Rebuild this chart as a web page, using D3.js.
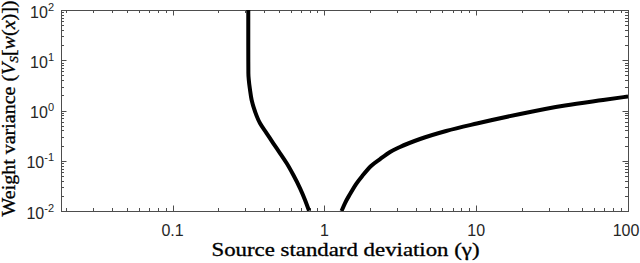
<!DOCTYPE html>
<html>

<head>
    <meta charset="utf-8">
    <script src="https://d3js.org/d3.v7.min.js"></script>
    <style>
        body { margin: 0; background: #fff; }
        svg { display: block; }
        .sans { font-family: 'Liberation Sans', Arial, sans-serif; }
        .serif { font-family: 'Liberation Serif', 'Times New Roman', serif; }
    </style>
</head>

<body>

    <svg id="chart"></svg>

    <script>
        // curve: left branch (gamma < 1) and right branch (gamma > 1)
        var gammaLeft = [0.3155, 0.3155, 0.316, 0.324, 0.332, 0.350, 0.377, 0.417, 0.461, 0.511, 0.565, 0.625, 0.692, 0.746, 0.793];
        var varLeft = [100, 20, 5.5, 2.56, 1.62, 0.946, 0.556, 0.352, 0.2225, 0.1407, 0.089, 0.052, 0.0283, 0.0166, 0.0101];

        var gammaRight = [1.298, 1.369, 1.477, 1.618, 1.798, 2.03, 2.33, 2.71, 3.15, 4.27, 6.34, 10.1, 19.5, 38.5, 68.5, 100];
        var varRight = [0.01, 0.0144, 0.0218, 0.0344, 0.052, 0.0786, 0.108, 0.149, 0.188, 0.271, 0.391, 0.551, 0.852, 1.257, 1.618, 1.899];

        var xDomain = [0.01843, 100];
        var yDomain = [0.01, 100];
        var xTickValues = [0.1, 1, 10, 100];
        var xTickLabels = ["0.1", "1", "10", "100"];
        var yTickExponents = [-2, -1, 0, 1, 2];

        var xLabel = "Source standard deviation (\u03b3)";

        var margin = { top: 10, right: 12, bottom: 52, left: 61 },
            fullW = 640,
            fullH = 263,
            width = fullW - margin.left - margin.right,
            height = fullH - margin.top - margin.bottom;

        var svg = d3.select("#chart")
            .attr("width", fullW)
            .attr("height", fullH);

        var g = svg.append("g")
            .attr("transform", "translate(" + margin.left + "," + margin.top + ")");

        var x = d3.scaleLog().domain(xDomain).range([0, width]);
        var y = d3.scaleLog().domain(yDomain).range([height, 0]);

        var axisColor = "#4d4d4d";
        var majorLen = 5.5, minorLen = 3;

        // minor tick positions (2..9 in every decade)
        function minors(domain) {
            var out = [];
            for (var e = -3; e <= 2; e++) {
                for (var k = 2; k <= 9; k++) {
                    var v = k * Math.pow(10, e);
                    if (v > domain[0] && v < domain[1]) out.push(v);
                }
            }
            return out;
        }

        var xMajors = xTickValues;
        var yMajors = yTickExponents.map(function (p) { return Math.pow(10, p); });

        // x ticks, bottom and top, pointing inwards
        var xt = g.append("g").attr("stroke", axisColor).attr("stroke-width", 1);
        xMajors.concat(minors(xDomain)).forEach(function (v) {
            var len = xMajors.indexOf(v) >= 0 ? majorLen : minorLen;
            var px = Math.round(x(v)) + 0.5;
            xt.append("line").attr("x1", px).attr("x2", px).attr("y1", height).attr("y2", height - len);
            xt.append("line").attr("x1", px).attr("x2", px).attr("y1", 0).attr("y2", len);
        });

        // y ticks, left and right
        var yt = g.append("g").attr("stroke", axisColor).attr("stroke-width", 1);
        yMajors.concat(minors(yDomain)).forEach(function (v) {
            var len = yMajors.indexOf(v) >= 0 ? majorLen : minorLen;
            var py = Math.round(y(v)) + 0.5;
            yt.append("line").attr("x1", 0).attr("x2", len).attr("y1", py).attr("y2", py);
            yt.append("line").attr("x1", width).attr("x2", width - len).attr("y1", py).attr("y2", py);
        });

        // box
        g.append("rect")
            .attr("x", 0.5).attr("y", 0.5)
            .attr("width", width).attr("height", height)
            .attr("fill", "none")
            .attr("stroke", axisColor)
            .attr("stroke-width", 1);

        // x tick labels
        g.append("g").selectAll("text")
            .data(xTickValues)
            .join("text")
            .attr("class", "sans")
            .attr("x", function (d, i) { return x(d) - (i == xTickValues.length - 1 ? 2 : 0); })
            .attr("y", height + 25)
            .attr("text-anchor", "middle")
            .style("font-size", "16px")
            .attr("fill", "#262626")
            .text(function (d, i) { return xTickLabels[i]; });

        // y tick labels 10^p
        var yl = g.append("g").selectAll("text")
            .data(yTickExponents)
            .join("text")
            .attr("class", "sans")
            .attr("x", -7)
            .attr("y", function (d) { return y(Math.pow(10, d)) + 7.5; })
            .attr("text-anchor", "end")
            .style("font-size", "16px")
            .attr("fill", "#262626");
        yl.append("tspan").text("10");
        yl.append("tspan")
            .attr("dy", -7)
            .style("font-size", "11px")
            .text(function (d) { return d; });

        // curve
        var clip = svg.append("clipPath").attr("id", "plotclip");
        clip.append("rect").attr("width", width).attr("height", height);

        // left branch is monotone in y, right branch monotone in x
        var lineLeft = d3.line()
            .x(function (d) { return x(d[0]); })
            .y(function (d) { return y(d[1]); })
            .curve(d3.curveMonotoneY);
        var lineRight = d3.line()
            .x(function (d) { return x(d[0]); })
            .y(function (d) { return y(d[1]); })
            .curve(d3.curveMonotoneX);

        var curves = g.append("g").attr("clip-path", "url(#plotclip)");

        curves.append("path")
            .attr("d", lineLeft(d3.zip(gammaLeft, varLeft)))
            .attr("fill", "none")
            .attr("stroke", "#000")
            .attr("stroke-width", 4);

        curves.append("path")
            .attr("d", lineRight(d3.zip(gammaRight, varRight)))
            .attr("fill", "none")
            .attr("stroke", "#000")
            .attr("stroke-width", 4);

        // axis titles (serif, like the LaTeX labels)
        svg.append("text")
            .attr("class", "serif")
            .attr("x", margin.left + width / 2 + 1)
            .attr("y", 256)
            .attr("text-anchor", "middle")
            .attr("textLength", 268)
            .attr("lengthAdjust", "spacingAndGlyphs")
            .style("font-size", "18px")
            .attr("fill", "#000")
            .attr("stroke", "#000")
            .attr("stroke-width", 0.3)
            .text(xLabel);

        var ylab = svg.append("text")
            .attr("class", "serif")
            .attr("transform", "translate(15," + 108.5 + ") rotate(-90)")
            .attr("text-anchor", "middle")
            .attr("textLength", 216)
            .attr("lengthAdjust", "spacingAndGlyphs")
            .style("font-size", "18px")
            .attr("fill", "#000")
            .attr("stroke", "#000")
            .attr("stroke-width", 0.3);
        ylab.append("tspan").text("Weight variance (");
        ylab.append("tspan").style("font-style", "italic").text("V");
        ylab.append("tspan").style("font-style", "italic").style("font-size", "12px").attr("dy", 3).text("S");
        ylab.append("tspan").attr("dy", -3).text("[");
        ylab.append("tspan").style("font-style", "italic").text("w");
        ylab.append("tspan").text("(");
        ylab.append("tspan").style("font-style", "italic").text("x");
        ylab.append("tspan").text(")])");
    </script>
</body>

</html>
